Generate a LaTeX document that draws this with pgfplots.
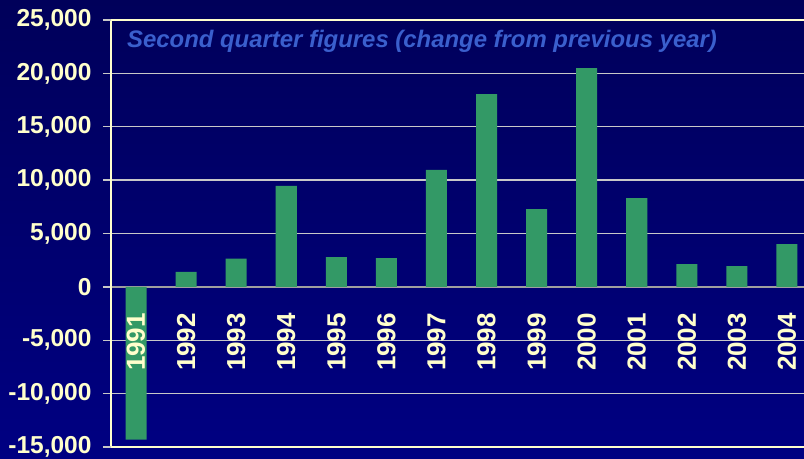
\documentclass[border=0pt]{standalone}
\usepackage{pgfplots}
\pgfplotsset{compat=1.18}
\usepackage{fontspec}
\setmainfont{Liberation Sans}
\definecolor{bgA}{RGB}{0,0,90}
\definecolor{bgB}{RGB}{0,0,130}
\definecolor{lab}{RGB}{255,255,204}
\definecolor{barc}{RGB}{51,153,102}
\definecolor{ttl}{RGB}{58,95,205}
\definecolor{grd}{RGB}{200,200,200}
\pgfplotsset{
  common/.style={
    at={(0,0)}, anchor=south west,
    scale only axis, width=701bp, height=427bp,
    xmin=-0.5, xmax=13.5, ymin=-15000, ymax=25000,
    axis x line=middle, axis y line=left,
    scaled y ticks=false,
    hide obscured x ticks=false, hide obscured y ticks=false,
    tick align=outside,
    clip=false,
  }
}
\begin{document}
\begin{tikzpicture}
\shade[top color=bgA,bottom color=bgB] (-111bp,-12bp) rectangle (693bp,447bp);
\begin{axis}[
  common,
  x axis line style={draw=gray!75!white, line width=1.3bp, -},
  y axis line style={draw=lab, line width=1.3bp, -},
  ytick={-10000,-5000,0,5000,10000,15000,20000},
  yticklabels={{-10,000},{-5,000},0,{5,000},{10,000},{15,000},{20,000}},
  extra y ticks={-15000,25000},
  extra y tick labels={{-15,000},{25,000}},
  extra y tick style={grid style={draw=lab, line width=1.3bp}},
  ymajorgrids, grid style={draw=grd, line width=1.3bp},
  y tick style={draw=grd, line width=1.3bp},
  major tick length=8bp,
  yticklabel style={font=\bfseries\fontsize{24.5bp}{26bp}\selectfont, text=lab, xshift=-8bp},
  xtick=\empty,
  minor xtick={0.5,1.5,...,12.5},
  minor x tick style={draw=grd, line width=1.3bp},
  minor tick length=10bp,
]
\addplot[ybar, bar width=0.42, fill=barc, draw=none] coordinates {
  (0,-14300) (1,1400) (2,2650) (3,9450) (4,2780) (5,2700) (6,10950)
  (7,18050) (8,7280) (9,20500) (10,8310) (11,2130) (12,1940) (13,4000)
};
\node[anchor=west, font=\bfseries\itshape\fontsize{23.9bp}{26bp}\selectfont, text=ttl, inner sep=0pt]
  at (rel axis cs:0,1) [xshift=16bp, yshift=-21bp] {Second quarter figures (change from previous year)};
\end{axis}
\begin{axis}[
  common,
  axis y line=none,
  x axis line style={draw=none},
  ytick=\empty,
  xtick={0,...,13},
  xticklabels={1991,1992,1993,1994,1995,1996,1997,1998,1999,2000,2001,2002,2003,2004},
  x tick style={draw=none},
  major tick length=0pt,
  xticklabel style={rotate=90, anchor=east, font=\bfseries\fontsize{26bp}{28bp}\selectfont, text=lab, xshift=-24bp, inner sep=2bp},
]
\end{axis}
\pgfresetboundingbox
\path[use as bounding box] (-111bp,-12bp) rectangle (693bp,447bp);
\end{tikzpicture}
\end{document}
